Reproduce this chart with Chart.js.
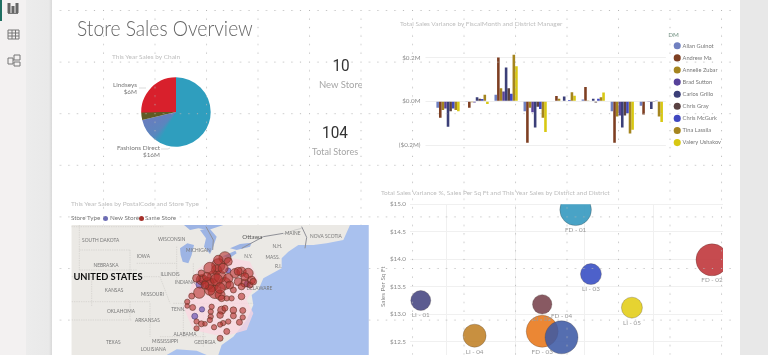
<!DOCTYPE html>
<html>
<head>
<meta charset="utf-8">
<title>Store Sales Overview</title>
<script src="https://cdn.jsdelivr.net/npm/chart.js@4"></script>
<style>
  html, body { margin: 0; padding: 0; }
  body { width: 768px; height: 355px; overflow: hidden; background: #fff; font-family: 'Lato', sans-serif; position: relative; }
  #root { position: absolute; left: 0; top: 0; width: 768px; height: 355px; overflow: hidden; filter: blur(0.45px); }
  .abs { position: absolute; white-space: nowrap; }
  .panel-title { font-size: 6.5px; color: #bdbdbd; line-height: 10px; }
  .legend-text { font-size: 6.3px; line-height: 10px; color: #777; }
  canvas { position: absolute; display: block; }
  #dots { position: absolute; left: 0; top: 0; z-index: 3; pointer-events: none; }
  #map { position: absolute; left: 0; top: 0; z-index: 4; }
  #mapCanvas { z-index: 5; }
  .kpi { text-align: center; color: #333; font-size: 17px; line-height: 22px; font-family: 'Roboto', sans-serif; transform: scaleX(.9); }
  .kpi-label { text-align: center; color: #a6a6a6; font-size: 9px; line-height: 13px; }
  .pie-label { text-align: right; color: #777; font-size: 6.4px; line-height: 7px; }
  #map text { font-family: 'Lato', sans-serif; font-size: 14.5px; fill: #777; text-anchor: middle; }
</style>
</head>
<body>
<div id="root">
  <!-- app chrome -->
  <div class="abs" style="left:0;top:0;width:26px;height:355px;background:#f3f1f1"></div>
  <div class="abs" style="left:26px;top:0;width:26px;height:355px;background:linear-gradient(90deg,#ececec 0,#e9e9e9 88%,#d9d9d9 100%)"></div>
  <div class="abs" style="left:740px;top:0;width:28px;height:355px;background:#e8e8e8"></div>
  <div class="abs" style="left:0;top:0;width:2px;height:21px;background:#1f6f62"></div>
  <svg class="abs" style="left:0;top:0" width="26" height="72" fill="none" stroke="#777" stroke-width="1">
    <path d="M9 3v10M13 6v7M17 3v10" stroke-width="3" stroke="#666"/><path d="M8 13.5h10"/>
    <path d="M8 30h11v9H8zM8 33h11M8 36h11M12 30v9M15.500 30v9"/>
    <path d="M8 58h5v6H8zM14 55h6v5h-6zM14 62h6v4h-6zM13 60h1"/>
  </svg>

  <!-- top left -->
  <div class="abs" style="left:76.500px;top:12px;font-size:21px;font-weight:300;color:#666;line-height:32px;transform:scaleX(.916);transform-origin:left center">Store Sales Overview</div>
  <div class="abs panel-title" style="left:112px;top:52px">This Year Sales by Chain</div>
  <canvas id="pieCanvas" width="80" height="80" style="left:136px;top:72px;z-index:1"></canvas>
  <div class="abs pie-label" style="right:631px;top:81px">Lindseys<br>$6M</div>
  <div class="abs pie-label" style="right:608px;top:144px">Fashions Direct<br>$16M</div>
  <svg class="abs" style="left:0;top:0;z-index:1" width="200" height="170" fill="none" stroke="#ccc" stroke-width=".7">
    <path d="M139 88h7"/><path d="M161 149h7l2-1"/>
  </svg>

  <div class="abs kpi" style="left:311px;top:54px;width:60px">10</div>
  <div class="abs kpi-label" style="left:300px;top:78px;overflow:hidden;text-align:left;padding-left:19px;box-sizing:border-box;width:62px;font-size:9.500px">New Stores</div>
  <div class="abs kpi" style="left:305px;top:121px;width:60px">104</div>
  <div class="abs kpi-label" style="left:305px;top:145px;width:60px">Total Stores</div>

  <!-- top right -->
  <div class="abs panel-title" style="left:400px;top:19px">Total Sales Variance by FiscalMonth and District Manager</div>
  <canvas id="barCanvas" width="340" height="125" style="left:385px;top:32px;z-index:1"></canvas>

  <!-- bottom left -->
  <div class="abs panel-title" style="left:71px;top:199px">This Year Sales by PostalCode and Store Type</div>
  <div class="abs legend-text" style="left:71px;top:213px">Store Type</div>
  <div class="abs" style="left:103px;top:215.500px;width:5px;height:5px;border-radius:50%;background:#6d6db5"></div>
  <div class="abs legend-text" style="left:110px;top:213px">New Store</div>
  <div class="abs" style="left:138.500px;top:215.500px;width:5px;height:5px;border-radius:50%;background:#a5302a"></div>
  <div class="abs legend-text" style="left:145px;top:213px">Same Store</div>

  <svg id="map" width="768" height="355">
    <defs><clipPath id="mapClip"><rect x="71.300" y="225" width="297.400" height="130"/></clipPath></defs>
    <g clip-path="url(#mapClip)"><g transform="translate(50,180) scale(.33333)">
      <rect x="64" y="135" width="892" height="390" fill="#ebe9e5"/>
      <!-- ocean -->
      <path d="M900 135L880 180 830 190 790 195 745 195 715 215 695 235 695 265 640 295 625 330 605 345 610 375 590 420 550 470 515 495 505 525 960 530 960 135Z" fill="#a9c1ee"/>
      <path d="M350 525L380 508 440 512 470 525Z" fill="#a9c1ee"/>
      <!-- lakes -->
      <path d="M402 135L520 135 475 150 445 145 420 150Z" fill="#9db4e4"/>
      <path d="M390 205L412 190 432 195 425 225 415 250 398 245 392 225Z" fill="#9db4e4"/>
      <path d="M450 150L478 145 500 170 488 205 480 222 462 200 468 175Z" fill="#9db4e4"/>
      <path d="M484 243L520 228 556 212 560 220 530 240 492 252Z" fill="#9db4e4"/>
      <path d="M540 205L570 192 605 188 600 200 560 210Z" fill="#9db4e4"/>
      <!-- borders -->
      <g fill="none" stroke="#c9c7c2" stroke-width="1.600" stroke-dasharray="4 3">
        <path d="M64 140H340M88 135V270M88 210H240M240 210V290M88 270H260M125 290V380M65 290H330M65 365H300M240 365V420M300 370V470M65 420H245"/>
        <path d="M260 250H380M380 200V300M330 290L360 370M430 250V370M490 250V340M370 370H610M400 370V470M460 370V500M330 470H470M530 420L600 440"/>
      </g>
      <g fill="none" stroke="#8f9097" stroke-width="3">
        <path d="M468 140L490 180 488 210M575 205L640 170 700 160M755 140L770 172 765 205"/>
      </g>
      <g fill="none" stroke="#bdbdbd" stroke-width="2"><path d="M700 162L735 150 755 145"/></g>
      <!-- pale halo round the stores -->
      <path d="M440 270L500 225 600 245 625 300 590 360 610 400 590 450 520 470 430 450 400 380 420 330Z" fill="#fbd5e0" opacity=".75"/>
      <!-- place names -->
      <text x="152" y="186">SOUTH DAKOTA</text><text x="365" y="183">WISCONSIN</text>
      <text x="445" y="216">MICHIGAN</text><text x="607" y="178" style="font-size:18.5px;fill:#555">Ottawa</text>
      <text x="728" y="166">MAINE</text><text x="828" y="174">NOVA SCOTIA</text>
      <text x="682" y="203">N.H.</text><text x="595" y="233">N.Y.</text>
      <text x="668" y="238">MASS.</text><text x="685" y="263">R.I.</text>
      <text x="280" y="233">IOWA</text><text x="168" y="261">NEBRASKA</text>
      <text x="360" y="288">ILLINOIS</text><text x="405" y="312">INDIANA</text>
      <text x="192" y="336">KANSAS</text><text x="307" y="348">MISSOURI</text>
      <text x="628" y="329">DELAWARE</text><text x="385" y="393">TENN.</text>
      <text x="213" y="398">OKLAHOMA</text><text x="292" y="426">ARKANSAS</text>
      <text x="405" y="468">ALABAMA</text><text x="190" y="491">TEXAS</text>
      <text x="345" y="490">MISSISSIPPI</text><text x="465" y="491">GEORGIA</text>
      <text x="310" y="514">LOUISIANA</text>
      <text x="174" y="299" style="font-size:28px;font-weight:700;fill:#111">UNITED STATES</text>
    </g></g>
  </svg>
  <canvas id="mapCanvas" width="297" height="130" style="left:71px;top:225px"></canvas>

  <!-- bottom right -->
  <div class="abs panel-title" style="left:381px;top:188px">Total Sales Variance %, Sales Per Sq Ft and This Year Sales by District and District</div>
  <canvas id="bubbleCanvas" width="344" height="181" style="left:379px;top:196px;z-index:1"></canvas>

  <svg id="dots" width="768" height="355">
    <defs>
      <pattern id="dotGrid" x="103" y="10" width="51.500" height="51.600" patternUnits="userSpaceOnUse">
        <g fill="#b4b4b4">
          <circle cx=".5" cy=".5" r=".6"/><circle cx="9" cy=".5" r=".6"/><circle cx="17.500" cy=".5" r=".6"/>
          <circle cx="26" cy=".5" r=".6"/><circle cx="34.500" cy=".5" r=".6"/><circle cx="43" cy=".5" r=".6"/>
          <circle cx=".5" cy="9" r=".6"/><circle cx=".5" cy="17.500" r=".6"/><circle cx=".5" cy="26" r=".6"/>
          <circle cx=".5" cy="34.500" r=".6"/><circle cx=".5" cy="43" r=".6"/>
        </g>
      </pattern>
    </defs>
    <rect x="58" y="5" width="676" height="350" fill="url(#dotGrid)"/>
  </svg>
</div>

<script>
const FONT = "'Lato', sans-serif"
const AXIS_TEXT = { size: 6.3 }

// pie
const chains = ['Fashions Direct', 'Lindseys']
const chainSales = [15.9, 6.4]

// variance by month and district manager, $M
const months = ['Jan', 'Feb', 'Mar', 'Apr', 'May', 'Jun', 'Jul', 'Aug']
const managers = ['Allan Guinot', 'Andrew Ma', 'Annelie Zubar', 'Brad Sutton', 'Carlos Grillo', 'Chris Gray', 'Chris McGurk', 'Tina Lassila', 'Valery Ushakov']
const managerColors = ['#7080c0', '#7e3f22', '#a5851f', '#57429a', '#3b3f78', '#5a4242', '#4048c0', '#a5851f', '#d8c812']
const allanGuinot = [-0.029, -0.003, 0.03, -0.045, 0.003, 0.008, -0.045, -0.02]
const andrewMa = [-0.075, -0.03, 0.2, -0.19, 0.024, 0.065, -0.19, -0.06]
const annelieZubar = [-0.04, -0.004, 0.06, -0.03, 0.012, 0.004, -0.07, 0.003]
const bradSutton = [-0.033, -0.006, 0.045, -0.05, 0.003, 0.003, -0.065, -0.003]
const carlosGrillo = [-0.117, 0.018, 0.155, -0.12, 0.022, 0.012, -0.12, -0.035]
const chrisGray = [-0.045, 0.012, 0.06, -0.025, 0.003, -0.006, -0.065, -0.003]
const chrisMcGurk = [-0.033, 0.01, 0.035, -0.035, 0.006, 0.012, -0.055, 0.001]
const tinaLassila = [-0.04, 0.03, 0.213, -0.075, 0.042, 0.018, -0.147, -0.07]
const valeryUshakov = [-0.045, -0.012, 0.16, -0.14, 0.025, 0.04, -0.13, -0.095]
const managerValues = [allanGuinot, andrewMa, annelieZubar, bradSutton, carlosGrillo, chrisGray, chrisMcGurk, tinaLassila, valeryUshakov]

// districts: variance %, sales per sq ft, this year sales $M
const districts = ['LI - 01', 'LI - 04', 'LI - 02', 'FD - 03', 'FD - 04', 'FD - 01', 'LI - 03', 'LI - 05', 'FD - 02']
const districtVariance = [-11.9, -8.0, -3.1, -3.1, -1.7, -0.68, 0.43, 3.4, 9.2]
const districtSqFt = [13.25, 12.61, 13.18, 12.69, 12.58, 14.9, 13.73, 13.12, 13.99]
const districtSales = [1.56, 2.07, 1.47, 4.0, 4.25, 3.9, 1.72, 1.72, 4.0]
const districtColors = ['rgba(62,62,125,.85)', 'rgba(190,125,30,.85)', 'rgba(115,60,70,.85)', 'rgba(232,118,24,.88)', 'rgba(62,90,165,.88)', 'rgba(48,150,190,.88)', 'rgba(52,75,195,.88)', 'rgba(226,205,20,.88)', 'rgba(190,50,55,.88)']

// stores on the map
const sameLon = [-80.2, -81.3, -81.6, -79.65, -84.1, -83.8, -84.45, -82.1, -82.4, -81.0, -80.2, -81.85, -81.0, -78.55, -77.45, -76.35, -78.0, -76.9, -75.8, -78.8, -77.45, -79.9, -79.1, -85.7, -86.45, -86.45, -85.55, -82.4, -82.55, -82.55, -82.7, -80.75, -81.0, -80.2, -78.8, -77.25, -78.8, -77.25, -77.8, -79.65, -80.5, -81.0, -84.9, -84.1, -83.5, -84.9, -82.0, -79.9, -81.0, -82.7, -80.5, -83.0, -81.6, -81.0, -82.7, -83.2, -79.65, -79.4, -78.0, -76.9, -77.45, -76.05, -75.5, -81.3, -80.75, -83.5, -84.9, -84.1]
const sameLat = [42.8, 41.8, 41.2, 42.3, 39.9, 39.95, 38.2, 40.3, 39.2, 40.3, 39.4, 38.3, 37.9, 40.75, 40.95, 40.75, 39.65, 39.45, 39.85, 38.55, 37.7, 37.45, 37.45, 37.75, 37.0, 36.45, 36.25, 36.35, 35.7, 35.05, 34.6, 35.9, 35.25, 36.15, 35.9, 35.85, 35.15, 34.95, 34.3, 34.4, 34.2, 34.0, 34.4, 34.1, 34.1, 33.5, 33.65, 33.1, 32.2, 41.4, 41.4, 39.4, 39.9, 38.8, 38.55, 40.3, 40.1, 39.2, 41.0, 40.3, 39.0, 39.2, 39.65, 42.5, 37.45, 39.2, 40.1, 40.75]
const sameSales = [0.36, 0.44, 0.25, 0.16, 0.25, 0.2, 0.32, 0.36, 0.44, 0.36, 0.36, 0.44, 0.25, 0.22, 0.22, 0.25, 0.16, 0.16, 0.16, 0.09, 0.11, 0.07, 0.07, 0.09, 0.07, 0.055, 0.09, 0.07, 0.07, 0.07, 0.07, 0.16, 0.11, 0.09, 0.11, 0.09, 0.09, 0.07, 0.09, 0.07, 0.07, 0.07, 0.07, 0.09, 0.055, 0.07, 0.07, 0.09, 0.09, 0.36, 0.25, 0.36, 0.36, 0.28, 0.28, 0.19, 0.22, 0.16, 0.16, 0.16, 0.11, 0.09, 0.11, 0.22, 0.11, 0.16, 0.16, 0.11]
const newLon = [-84.0, -85.2, -84.35, -76.5, -79.65]
const newLat = [36.0, 35.1, 39.3, 39.35, 41.1]
const newSales = [0.07, 0.09, 0.16, 0.09, 0.07]

Chart.defaults.font.family = FONT
Chart.defaults.animation = false

// pie
const slicePaint = (ctx) => {
  const g = ctx.chart.ctx.createConicGradient(-Math.PI / 2, ctx.chart.width / 2, ctx.chart.height / 2)
  if (ctx.dataIndex === 0) {
    g.addColorStop(0, '#2f9ebe'); g.addColorStop(0.58, '#2f9ebe')
    g.addColorStop(0.62, '#5a86be'); g.addColorStop(0.72, '#6a7cbe')
  } else {
    g.addColorStop(0.7, '#5f5a24'); g.addColorStop(0.745, '#5f5a24')
    g.addColorStop(0.75, '#d8202c'); g.addColorStop(1, '#d8202c')
  }
  return g
}

new Chart(document.getElementById('pieCanvas'), {
  type: 'pie',
  data: { labels: chains, datasets: [{ data: chainSales, backgroundColor: slicePaint, borderWidth: 0 }] },
  options: { responsive: false, radius: 34.7, plugins: { legend: { display: false }, tooltip: { enabled: false } } }
})

// clustered bars
new Chart(document.getElementById('barCanvas'), {
  type: 'bar',
  data: {
    labels: months,
    datasets: managers.map((m, i) => ({ label: m, data: managerValues[i], backgroundColor: managerColors[i] }))
  },
  options: {
    responsive: false,
    layout: { autoPadding: false },
    datasets: { bar: { categoryPercentage: 0.8, barPercentage: 1 } },
    scales: {
      x: {
        afterFit: (s) => { s.height = 12 },
        grid: { display: false },
        border: { display: false },
        ticks: { color: '#8a8a8a', font: AXIS_TEXT, padding: 2, maxRotation: 0 }
      },
      y: {
        min: -0.2, max: 0.277,
        afterBuildTicks: (s) => { s.ticks = [{ value: -0.2 }, { value: 0 }, { value: 0.2 }] },
        afterFit: (s) => { s.width = 48.5 },
        grid: { color: '#efefef', tickLength: 8 },
        border: { display: false },
        ticks: {
          color: '#8a8a8a', font: AXIS_TEXT, padding: 5,
          callback: (v) => v < 0 ? '($' + Math.abs(v).toFixed(1) + 'M)' : '$' + v.toFixed(1) + 'M'
        }
      },
      // spacer between the plot and the legend
      gap: {
        type: 'linear', position: 'right',
        afterFit: (s) => { s.width = 2.5 },
        grid: { display: false }, border: { display: false }, ticks: { display: false }
      }
    },
    plugins: {
      tooltip: { enabled: false },
      legend: {
        position: 'right', align: 'start',
        title: { display: true, position: 'start', text: 'DM', color: '#6f8f7f', font: { size: 6.3 }, padding: { top: 0, bottom: -3 } },
        labels: { usePointStyle: true, pointStyle: 'circle', boxWidth: 5, boxHeight: 5, padding: 6.4, color: '#777', font: { size: 5.7 } }
      }
    }
  }
})

// map bubbles
const toStores = (lon, lat, sales) => lon.map((x, i) => ({ x: x, y: lat[i], r: 10 * Math.sqrt(sales[i]) }))

new Chart(document.getElementById('mapCanvas'), {
  type: 'bubble',
  data: {
    datasets: [
      { label: 'Same Store', data: toStores(sameLon, sameLat, sameSales), backgroundColor: 'rgba(182,48,45,.6)', borderColor: 'rgba(95,50,35,.75)', borderWidth: 0.8 },
      { label: 'New Store', data: toStores(newLon, newLat, newSales), backgroundColor: 'rgba(125,100,185,.8)', borderColor: 'rgba(80,70,120,.8)', borderWidth: 0.8 }
    ]
  },
  options: {
    responsive: false,
    layout: { autoPadding: false },
    scales: {
      x: { display: false, min: -105.7, max: -56.5 },
      y: { display: false, min: 30, max: 47.1 }
    },
    plugins: { legend: { display: false }, tooltip: { enabled: false } }
  }
})

// district scatter, with the names under each bubble
const districtNames = {
  id: 'districtNames',
  afterDatasetsDraw(chart) {
    const ctx = chart.ctx
    const points = chart.getDatasetMeta(0).data
    ctx.save()
    ctx.font = '6.3px ' + FONT
    ctx.fillStyle = '#999'
    ctx.textAlign = 'center'
    ctx.textBaseline = 'middle'
    points.forEach((p, i) => {
      const above = districts[i] === 'FD - 04'
      const y = above ? p.y - p.options.radius - 5 : p.y + p.options.radius + 4.5
      ctx.fillText(districts[i], p.x, y)
    })
    ctx.restore()
  }
}

new Chart(document.getElementById('bubbleCanvas'), {
  type: 'bubble',
  data: {
    datasets: [{
      label: 'Districts',
      clip: 0,
      data: districts.map((d, i) => ({ x: districtVariance[i], y: districtSqFt[i], r: 8 * Math.sqrt(districtSales[i]) })),
      backgroundColor: districtColors,
      borderColor: 'rgba(70,60,50,.35)',
      borderWidth: 0.8
    }]
  },
  plugins: [districtNames],
  options: {
    responsive: false,
    layout: { autoPadding: false, padding: { top: 8.3 } },
    scales: {
      x: {
        min: -12.68, max: 10,
        afterBuildTicks: (s) => { s.ticks = [-10, -5, 0, 5, 10].map((v) => ({ value: v })) },
        afterFit: (s) => { s.height = 0 },
        grid: { color: '#f0f0f0', tickLength: 0 },
        border: { display: false },
        ticks: { display: false }
      },
      y: {
        min: 12, max: 15,
        afterBuildTicks: (s) => { s.ticks = [12, 12.5, 13, 13.5, 14, 14.5, 15].map((v) => ({ value: v })) },
        afterFit: (s) => { s.width = 31 },
        grid: { color: '#f0f0f0', tickLength: 0 },
        border: { display: false },
        title: { display: true, text: 'Sales Per Sq Ft', color: '#888', font: AXIS_TEXT, padding: 0 },
        ticks: { color: '#8a8a8a', font: AXIS_TEXT, padding: 4, callback: (v) => '$' + v.toFixed(1) }
      }
    },
    plugins: { legend: { display: false }, tooltip: { enabled: false } }
  }
})
</script>
</body>
</html>
